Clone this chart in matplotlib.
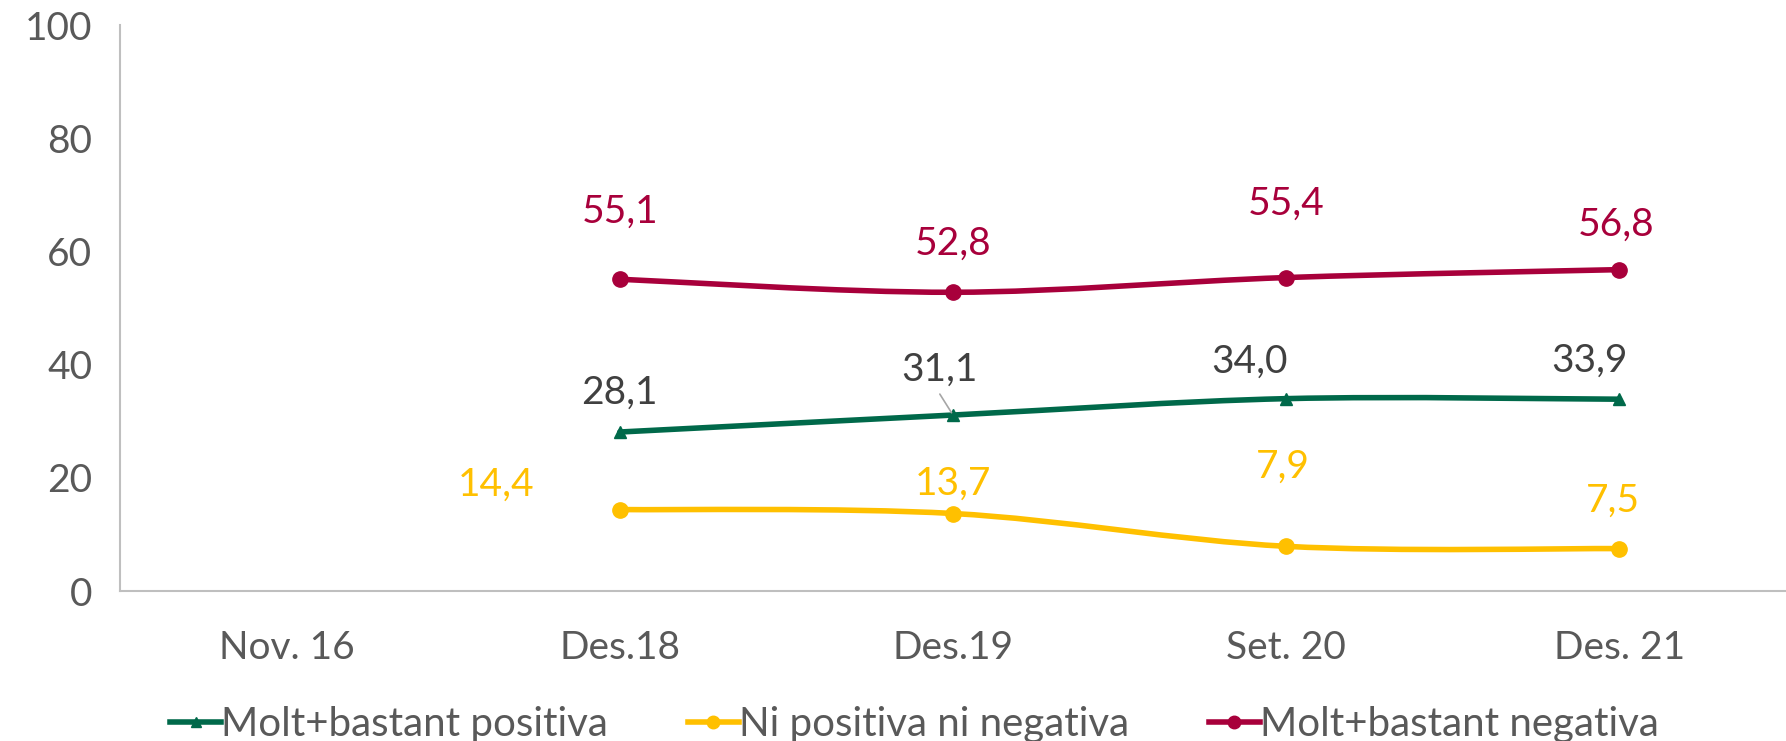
import matplotlib.pyplot as plt
import numpy as np
from matplotlib.path import Path
from matplotlib.patches import PathPatch
from matplotlib.lines import Line2D

plt.rcParams['font.family'] = ['Lato', 'DejaVu Sans']

categories = ["Nov. 16", "Des.18", "Des.19", "Set. 20", "Des. 21"]
positiva = [np.nan, 28.1, 31.1, 34.0, 33.9]
ni_ni = [np.nan, 14.4, 13.7, 7.9, 7.5]
negativa = [np.nan, 55.1, 52.8, 55.4, 56.8]

green = "#00694A"
yellow = "#FFC000"
red = "#A8003B"

fig = plt.figure(figsize=(17.86, 7.41), dpi=100)
ax = fig.add_axes([0.0672, 0.2024, 0.9328, 0.7636])

x = np.arange(len(categories)) + 0.5


def smooth_line(xs, ys, color):
    # excel-like smoothed line (catmull-rom as bezier segments)
    pts = [(a, b) for a, b in zip(xs, ys) if not np.isnan(b)]
    pts = np.array(pts)
    verts = [pts[0]]
    codes = [Path.MOVETO]
    n = len(pts)
    for i in range(n - 1):
        p0 = pts[i - 1] if i > 0 else pts[i]
        p1 = pts[i]
        p2 = pts[i + 1]
        p3 = pts[i + 2] if i + 2 < n else pts[i + 1]
        c1 = p1 + (p2 - p0) / 6
        c2 = p2 - (p3 - p1) / 6
        verts += [c1, c2, p2]
        codes += [Path.CURVE4] * 3
    ax.add_patch(PathPatch(Path(verts, codes), fc="none", ec=color, lw=4,
                           capstyle="round", zorder=2))


smooth_line(x, positiva, green)
smooth_line(x, ni_ni, yellow)
smooth_line(x, negativa, red)
ax.plot(x, positiva, color=green, ls="none", marker="^", ms=9, zorder=3)
ax.plot(x, ni_ni, color=yellow, ls="none", marker="o", ms=11, zorder=3)
ax.plot(x, negativa, color=red, ls="none", marker="o", ms=11, zorder=3)


def fmt(v):
    return f"{v:.1f}".replace(".", ",")

# label offsets (dx in category units, dy in value units), like the excel labels
pos_off = [None, (0.0, 7.0), (-0.04, 8.0), (-0.11, 6.5), (-0.09, 6.8)]
ni_off = [None, (-0.37, 4.4), (0.0, 5.2), (-0.01, 14.0), (-0.02, 8.5)]
neg_off = [None, (0.0, 12.0), (0.0, 8.5), (0.0, 13.0), (-0.01, 8.0)]

for i, v in enumerate(positiva):
    if np.isnan(v):
        continue
    dx, dy = pos_off[i]
    if i == 2:
        ax.annotate(fmt(v), xy=(x[i], v), xytext=(x[i] + dx, v + dy),
                    ha="center", va="center", fontsize=28, color="#404040",
                    arrowprops=dict(arrowstyle="-", color="#A6A6A6", lw=1.2,
                                    shrinkA=3, shrinkB=2,
                                    relpos=(0.45, 0.0)))
    else:
        ax.text(x[i] + dx, v + dy, fmt(v), ha="center", va="center",
                fontsize=28, color="#404040")

for i, v in enumerate(ni_ni):
    if np.isnan(v):
        continue
    dx, dy = ni_off[i]
    ax.text(x[i] + dx, v + dy, fmt(v), ha="center", va="center",
            fontsize=28, color=yellow)

for i, v in enumerate(negativa):
    if np.isnan(v):
        continue
    dx, dy = neg_off[i]
    ax.text(x[i] + dx, v + dy, fmt(v), ha="center", va="center",
            fontsize=28, color=red)

ax.set_xlim(0, len(categories))
ax.set_ylim(0, 100)
ax.set_xticks(x)
ax.set_xticklabels(categories)
ax.set_yticks(np.arange(0, 101, 20))
ax.tick_params(axis="both", length=0, labelsize=28, colors="#595959")
ax.tick_params(axis="x", pad=28)
ax.tick_params(axis="y", pad=20)

for s in ["top", "right"]:
    ax.spines[s].set_visible(False)
for s in ["left", "bottom"]:
    ax.spines[s].set_color("#BFBFBF")
    ax.spines[s].set_linewidth(1.5)

handles = [
    Line2D([], [], color=green, lw=4, marker="^", ms=7),
    Line2D([], [], color=yellow, lw=4, marker="o", ms=9),
    Line2D([], [], color=red, lw=4, marker="o", ms=9),
]
labels = ["Molt+bastant positiva", "Ni positiva ni negativa", "Molt+bastant negativa"]
fig.legend(handles, labels, loc="center", bbox_to_anchor=(0.512, 0.022), ncol=3,
           frameon=False, fontsize=29, labelcolor="#595959", handlelength=1.25,
           handletextpad=0.0, columnspacing=2.0)

fig.savefig("out.png", dpi=100)
